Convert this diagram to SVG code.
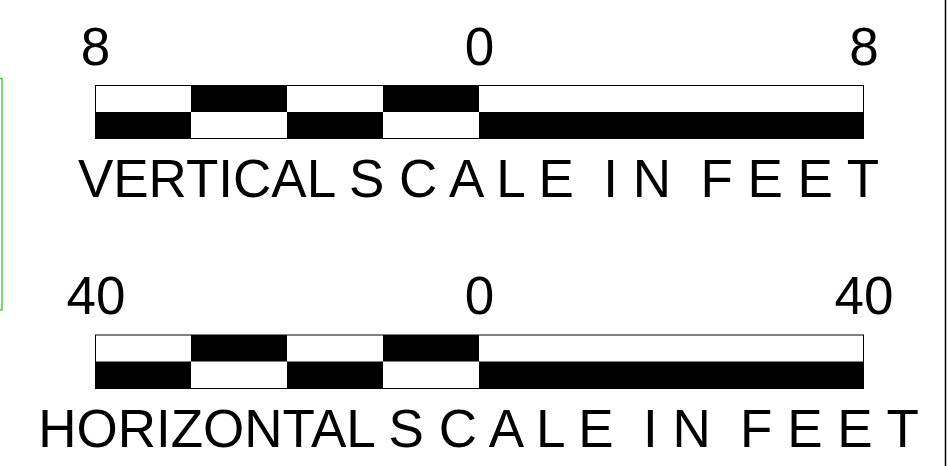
<svg xmlns="http://www.w3.org/2000/svg" width="948" height="466" viewBox="0 0 948 466">
  <style>
    .lbl { font-family: "Liberation Sans", Arial, sans-serif; font-size: 53px; fill: #000; text-anchor: middle; }
    .blk { fill: #000; }
    .frame { fill: none; stroke: #000; stroke-width: 1; }
  </style>
  <rect x="0" y="0" width="948" height="466" fill="#fff"/>
  <rect x="-10" y="78.5" width="12" height="231.5" fill="none" stroke="#2db42d" stroke-width="1.2"/>
  <line x1="945.5" y1="0" x2="945.5" y2="466" stroke="#000" stroke-width="1.5"/>

  <g id="vertical-scale">
    <text class="lbl" x="95.5" y="65">8</text>
    <text class="lbl" x="479.5" y="65">0</text>
    <text class="lbl" x="864" y="65">8</text>
    <rect x="95.5" y="85.5" width="768" height="53" fill="#fff"/>
    <rect class="blk" x="191" y="85.5" width="96" height="26.5"/>
    <rect class="blk" x="383" y="85.5" width="96" height="26.5"/>
    <rect class="blk" x="95.5" y="112" width="95.5" height="26.5"/>
    <rect class="blk" x="287" y="112" width="96" height="26.5"/>
    <rect class="blk" x="479" y="112" width="384.5" height="26.5"/>
    <rect class="frame" x="95.5" y="85.5" width="768" height="53"/>
    <text class="lbl" x="478.5" y="197" xml:space="preserve">VERTICAL S C A L E  I N  F E E T</text>
  </g>

  <g id="horizontal-scale">
    <text class="lbl" x="96" y="314">40</text>
    <text class="lbl" x="479.5" y="314">0</text>
    <text class="lbl" x="864" y="314">40</text>
    <rect x="95.5" y="335" width="768" height="53.5" fill="#fff"/>
    <rect class="blk" x="191" y="335" width="96" height="26.5"/>
    <rect class="blk" x="383" y="335" width="96" height="26.5"/>
    <rect class="blk" x="95.5" y="361.5" width="95.5" height="27"/>
    <rect class="blk" x="287" y="361.5" width="96" height="27"/>
    <rect class="blk" x="479" y="361.5" width="384.5" height="27"/>
    <rect class="frame" x="95.5" y="335" width="768" height="53.5"/>
    <text class="lbl" x="478.5" y="447" xml:space="preserve">HORIZONTAL S C A L E  I N  F E E T</text>
  </g>
</svg>
